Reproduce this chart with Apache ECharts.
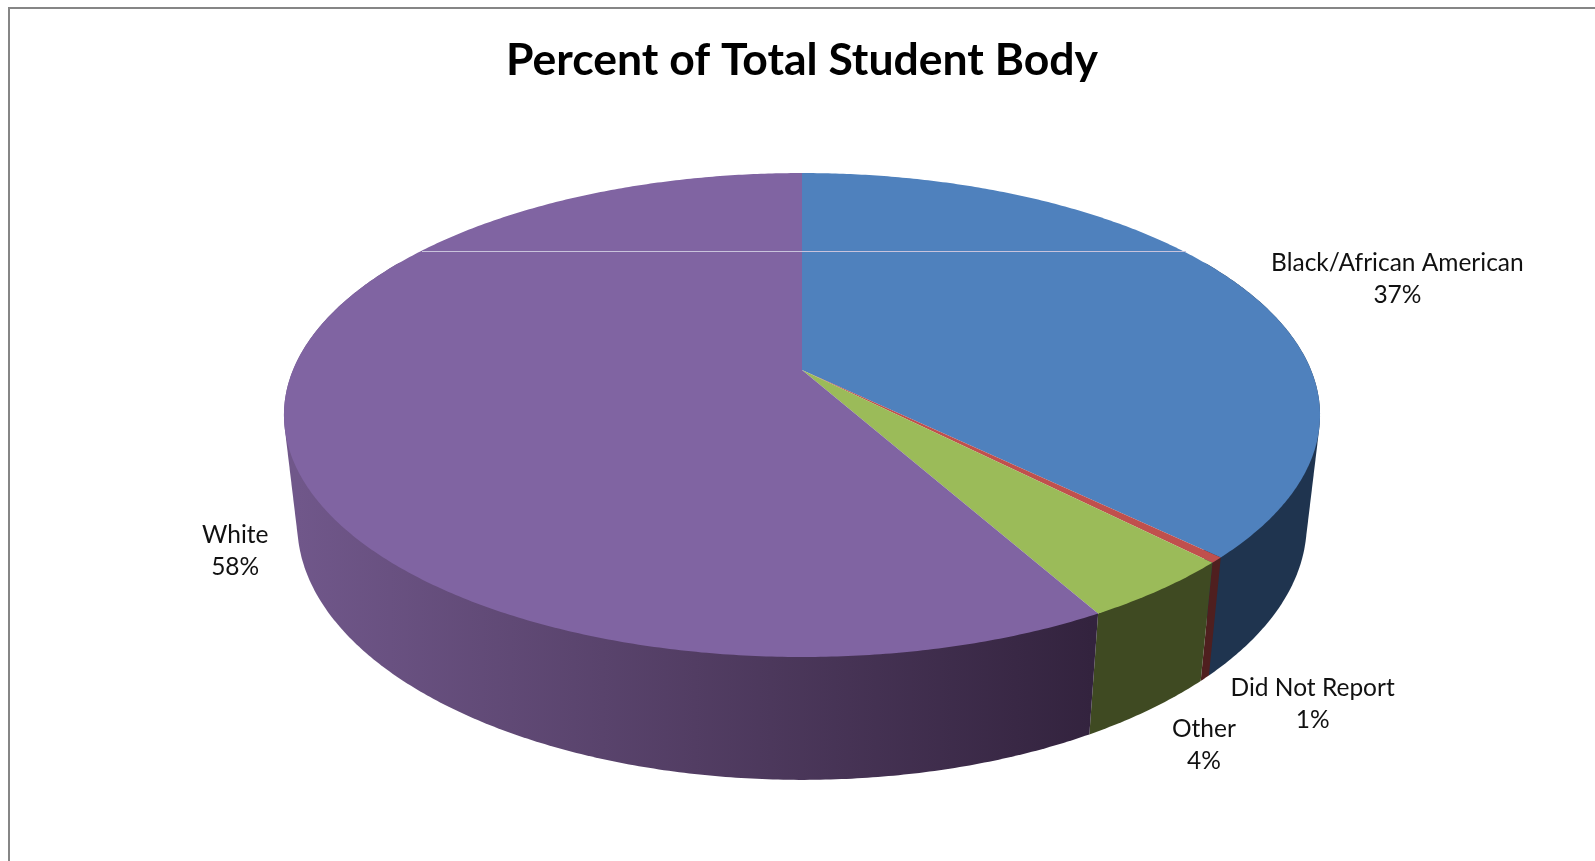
<!DOCTYPE html>
<html><head><meta charset="utf-8">
<style>html,body{margin:0;padding:0;background:#fff}#c{width:1595px;height:861px}</style>
<script src="https://cdn.jsdelivr.net/npm/echarts@6/dist/echarts.min.js"></script>
</head><body><div id="c"></div>
<script>
const titleText = 'Percent of Total Student Body';
const categories = ['Black/African American', 'Did Not Report', 'Other', 'White'];
const values = [37.3, 0.38, 4.22, 58.1];
const percentLabels = ['37%', '1%', '4%', '58%'];
const topColors = ['#4f81bd', '#c0504d', '#9bbb59', '#8064a2'];
const wallColors = ['#1f344f', '#4f1f1f', '#3f4a22', null];
const labelOffsets = [[158, -6.5], [96, 144], [44, 155], [-50, 119.5]];

// projection of the tilted disc
const CX = 802, CY = 370, A = 509, B = 233.6, P = 0.186, E = 0.0255, D = 110.5;
const FONT = 'Lato';
const total = values.reduce((a, b) => a + b, 0);
function angles(i) {
  let s = 0;
  for (let k = 0; k < i; k++) s += values[k];
  return [s / total * 360, (s + values[i]) / total * 360];
}
function project(deg, lower) {
  const t = deg * Math.PI / 180, u = Math.sin(t), v = -Math.cos(t);
  const w = 1 - P * v + (lower ? E : 0);
  return [CX + A * u / w, CY + (B * v + (lower ? D : 0)) / w];
}
function arc(a0, a1, lower) {
  const n = Math.max(2, Math.ceil(Math.abs(a1 - a0) * 2)), pts = [];
  for (let i = 0; i <= n; i++) pts.push(project(a0 + (a1 - a0) * i / n, lower));
  return pts;
}
function hull(points) {
  const p = points.slice().sort((a, b) => a[0] - b[0] || a[1] - b[1]);
  const cross = (o, a, b) => (a[0] - o[0]) * (b[1] - o[1]) - (a[1] - o[1]) * (b[0] - o[0]);
  const lo = [], up = [];
  for (const q of p) { while (lo.length > 1 && cross(lo[lo.length - 2], lo[lo.length - 1], q) <= 0) lo.pop(); lo.push(q); }
  for (const q of p.slice().reverse()) { while (up.length > 1 && cross(up[up.length - 2], up[up.length - 1], q) <= 0) up.pop(); up.push(q); }
  lo.pop(); up.pop();
  return lo.concat(up);
}
function renderWall(params) {
  const i = params.dataIndex, [a0, a1] = angles(i);
  const s = Math.max(a0, 60), e = Math.min(a1, 300);
  const pts = hull(arc(s, e, false).concat(arc(s, e, true)));
  const fill = wallColors[i] || new echarts.graphic.LinearGradient(298, 0, 1092, 0, [
    { offset: 0, color: '#70578a' },
    { offset: 0.5, color: '#523d63' },
    { offset: 1, color: '#33233e' }
  ], true);
  return { type: 'polygon', shape: { points: pts }, style: { fill: fill } };
}
function renderTop(params) {
  const i = params.dataIndex, [a0, a1] = angles(i);
  const pts = [[CX, CY]].concat(arc(a0, a1, false));
  return { type: 'polygon', shape: { points: pts }, style: { fill: topColors[i] } };
}
function renderLabel(params) {
  const i = params.dataIndex, [a0, a1] = angles(i);
  const p = project((a0 + a1) / 2, false), o = labelOffsets[i];
  return { type: 'text', style: {
    x: p[0] + o[0], y: p[1] + o[1], text: categories[i] + '\n' + percentLabels[i],
    align: 'center', verticalAlign: 'middle', fill: '#111', font: '24.5px ' + FONT, lineHeight: 32
  } };
}
const chart = echarts.init(document.getElementById('c'), null, { renderer: 'canvas' });
chart.setOption({
  animation: false,
  backgroundColor: '#fff',
  title: { text: titleText, left: CX - 5, top: 33, textAlign: 'center',
    textStyle: { fontFamily: FONT, fontWeight: 'bold', fontSize: 44.5, color: '#000' } },
  graphic: [
    { type: 'line', z: 100, shape: { x1: 8, y1: 8, x2: 1595, y2: 8 }, style: { stroke: '#868686', lineWidth: 2 } },
    { type: 'line', z: 100, shape: { x1: 9, y1: 8, x2: 9, y2: 861 }, style: { stroke: '#868686', lineWidth: 2 } },
    { type: 'line', z: 100, shape: { x1: 422, y1: 251.5, x2: 1186, y2: 251.5 }, style: { stroke: '#c9c3dc', lineWidth: 1 } }
  ],
  series: [
    { type: 'custom', coordinateSystem: 'none', renderItem: renderWall, data: values, z: 2 },
    { type: 'custom', coordinateSystem: 'none', renderItem: renderTop, data: values, z: 3 },
    { type: 'custom', coordinateSystem: 'none', renderItem: renderLabel, data: values, z: 4 }
  ]
});
</script></body></html>
